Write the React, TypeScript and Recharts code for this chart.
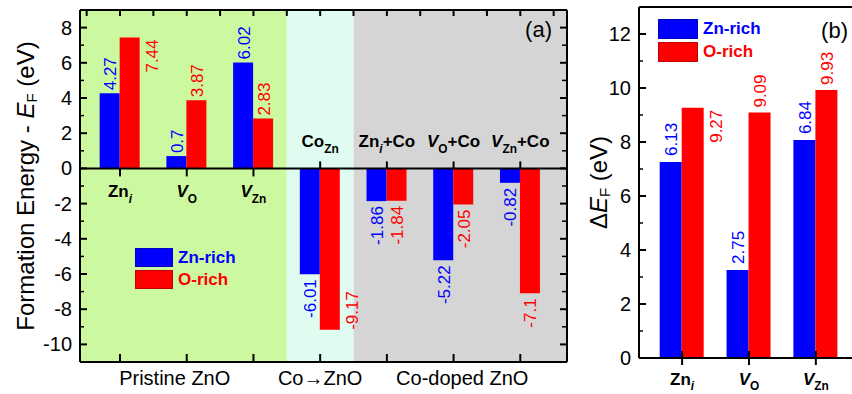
import React from 'react';
import {
  ComposedChart, Bar, XAxis, YAxis, ReferenceArea, ReferenceLine, Scatter, LabelList, Legend,
} from 'recharts';

// ---------------- Panel (a) data ----------------
const defectsA = ['Zn_i', 'V_O', 'V_Zn', 'Co_Zn', 'Zn_i+Co', 'V_O+Co', 'V_Zn+Co'];
const znRichA = [4.27, 0.7, 6.02, -6.01, -1.86, -5.22, -0.82];
const oRichA = [7.44, 3.87, 2.83, -9.17, -1.84, -2.05, -7.1];
const yTicksA = [-10, -8, -6, -4, -2, 0, 2, 4, 6, 8];
const yDomainA: [number, number] = [-11, 9];
const groupNamesA = ['Pristine ZnO', 'Co→ZnO', 'Co-doped ZnO'];
const groupLabelAtA = [1.82, 4, 6.13];
const groupBoundsA = [0.4, 3.5, 4.5, 7.7];

// ---------------- Panel (b) data ----------------
const defectsB = ['Zn_i', 'V_O', 'V_Zn'];
const znRichB = [7.26, 3.26, 8.07];
const znRichLabelB = [6.13, 2.75, 6.84];
const oRichB = [9.27, 9.09, 9.93];
const yTicksB = [0, 2, 4, 6, 8, 10, 12];
const yDomainB: [number, number] = [0, 13];
const xDomainB: [number, number] = [0.355, 3.9];

const seriesNames = ['Zn-rich', 'O-rich'];

// ---------------- styles ----------------
const FONT = '"Liberation Sans", Arial, Helvetica, sans-serif';
const BLUE = '#0000ff';
const RED = '#ff0000';
const REGION_COLORS = ['#ccf8a0', '#e0fcf1', '#d5d5d5'];
const AXIS = { stroke: '#000', strokeWidth: 2 };
const TICK_GAP = 8;
const MARGIN_A = { top: 9, right: 32, bottom: 31, left: 79 };
const MARGIN_B = { top: 6, right: 14, bottom: 35, left: 78 };

const rowsA = defectsA.map((name, i) => ({ x: i + 1, name, zn: znRichA[i], o: oRichA[i] }));
const rowsB = defectsB.map((name, i) => ({ x: i + 1, name, zn: znRichB[i], znLabel: znRichLabelB[i], o: oRichB[i] }));

function withMinor(majors: number[]) {
  const out: number[] = [];
  majors.forEach((v, i) => {
    out.push(v);
    if (i < majors.length - 1) out.push((v + majors[i + 1]) / 2);
  });
  return out;
}

type Seg = { t: string; sub?: boolean; italic?: boolean };
function parseName(s: string): Seg[] {
  const m = s.match(/^([^_+]+)(?:_([^+]+))?(.*)$/);
  if (!m) return [{ t: s }];
  const segs: Seg[] = [{ t: m[1], italic: m[1] === 'V' }];
  if (m[2]) segs.push({ t: m[2], sub: true, italic: m[2] === 'i' });
  if (m[3]) segs.push({ t: m[3] });
  return segs;
}

function CatText({ x, y, name, size }: { x: number; y: number; name: string; size: number }) {
  const segs = parseName(name);
  const shift = size * 0.32;
  return (
    <text x={x} y={y} textAnchor="middle" fontFamily={FONT} fontWeight="bold" fontSize={size} fill="#000">
      {segs.map((s, i) => {
        const prevSub = i > 0 && segs[i - 1].sub;
        const dy = s.sub ? shift : prevSub ? -shift : 0;
        return (
          <tspan key={i} dy={dy || undefined} fontSize={s.sub ? size * 0.7 : undefined}
            fontStyle={s.italic ? 'italic' : undefined}>{s.t}</tspan>
        );
      })}
    </text>
  );
}

// ---------------- tick renderers ----------------
const makeLeftTick = (majors: number[], fontSize: number) => (p: any) => {
  const v = p.payload.value;
  const major = majors.includes(v);
  const ax = p.x + TICK_GAP;
  return (
    <g>
      <path d={`M${ax},${p.y}h${major ? 7 : 4}`} stroke="#000" strokeWidth={major ? 2 : 1.5} fill="none" />
      {major && (
        <text x={p.x} y={p.y} textAnchor="end" dominantBaseline="central" fontFamily={FONT} fontSize={fontSize} fill="#000">{v}</text>
      )}
    </g>
  );
};

const makeRightTick = (majors: number[]) => (p: any) => {
  const major = majors.includes(p.payload.value);
  return <path d={`M${p.x},${p.y}h${-(major ? 7 : 5)}`} stroke="#000" strokeWidth={major ? 2 : 1.5} fill="none" />;
};

const TopTickA = (p: any) => <path d={`M${p.x},${p.y}v6`} stroke="#000" strokeWidth={2} fill="none" />;

const BottomTickA = (p: any) => {
  const v = p.payload.value;
  const gi = groupLabelAtA.indexOf(v);
  return (
    <g>
      {Number.isInteger(v) && <path d={`M${p.x},${p.y}v-8`} stroke="#000" strokeWidth={2} fill="none" />}
      {gi >= 0 && (
        <text x={p.x} y={p.y + 23} textAnchor="middle" fontFamily={FONT} fontSize={20} fill="#000">{groupNamesA[gi]}</text>
      )}
    </g>
  );
};

const BottomTickB = (p: any) => {
  const v = p.payload.value;
  const row = rowsB.find((r) => r.x === v);
  return (
    <g>
      <path d={`M${p.x},${p.y - 7}v14`} stroke="#000" strokeWidth={2} fill="none" />
      {row && <CatText x={p.x} y={p.y + 27} name={row.name} size={17} />}
    </g>
  );
};

// category labels sitting on the zero line (panel a)
const CatMarkA = (p: any) => {
  const { cx, cy, payload } = p;
  const above = payload.above;
  return (
    <g>
      <path d={`M${cx},${cy}v${above ? -7 : 8}`} stroke="#000" strokeWidth={2} fill="none" />
      <CatText x={cx} y={above ? cy - 21 : cy + 29} name={payload.name} size={17} />
    </g>
  );
};

// value labels
const makeValueLabel = (color: string, beside: Set<number>, gapPos: number, gapNeg: number) => (p: any) => {
  const vb = p.viewBox && typeof p.viewBox.x === 'number' ? p.viewBox : p;
  const x = Number(vb.x), y = Number(vb.y), w = Number(vb.width), h = Number(vb.height);
  const value = Number(p.value);
  const top = Math.min(y, y + h);
  const bottom = Math.max(y, y + h);
  const cx = x + w / 2 + 1;
  let px: number, py: number, anchor: 'start' | 'end';
  if (beside.has(p.index)) {
    px = x + w + 13;
    if (value >= 0) { py = top + 2; anchor = 'end'; } else { py = bottom; anchor = 'start'; }
  } else if (value >= 0) {
    px = cx; py = top - gapPos; anchor = 'start';
  } else {
    px = cx; py = bottom + gapNeg; anchor = 'end';
  }
  return (
    <text x={px} y={py} transform={`rotate(-90 ${px} ${py})`} textAnchor={anchor} dominantBaseline="central"
      fontFamily={FONT} fontSize={17} fill={color}>{String(value)}</text>
  );
};

// legend
const makeLegend = (sw: number, sh: number, gap: number) => (props: any) => {
  const items = (props.payload || [])
    .filter((e: any) => seriesNames.includes(e.value))
    .sort((a: any, b: any) => seriesNames.indexOf(a.value) - seriesNames.indexOf(b.value));
  return (
    <div style={{ display: 'flex', flexDirection: 'column', gap }}>
      {items.map((e: any) => (
        <div key={e.value} style={{ display: 'flex', alignItems: 'center', height: sh }}>
          <div style={{ width: sw, height: sh, background: e.color, boxSizing: 'border-box', border: '1px solid rgba(0,0,0,0.25)' }} />
          <span style={{ marginLeft: 5, color: e.color, fontFamily: FONT, fontWeight: 'bold', fontSize: 17, lineHeight: `${sh}px` }}>{e.value}</span>
        </div>
      ))}
    </div>
  );
};

// axis titles / panel tags
const titleA = (p: any) => {
  const vb = p.viewBox || p;
  const ax = vb.x + vb.width;
  const cx = ax - 55;
  const cy = vb.y + vb.height / 2;
  return (
    <text x={cx} y={cy} transform={`rotate(-90 ${cx} ${cy})`} textAnchor="middle" dominantBaseline="central"
      fontFamily={FONT} fontSize={24} fill="#000">
      <tspan>{'Formation Energy - '}</tspan>
      <tspan fontStyle="italic">E</tspan>
      <tspan dy={6} fontSize={15}>F</tspan>
      <tspan dy={-6}>{' (eV)'}</tspan>
    </text>
  );
};

const tagA = (p: any) => {
  const vb = p.viewBox || p;
  return (
    <text x={vb.x - 15} y={vb.y + 27} textAnchor="end" fontFamily={FONT} fontSize={22} fill="#000">(a)</text>
  );
};

const titleB = (p: any) => {
  const vb = p.viewBox || p;
  const ax = vb.x + vb.width;
  const cx = ax - 41;
  const cy = vb.y + vb.height / 2;
  return (
    <g>
      <text x={cx} y={cy} transform={`rotate(-90 ${cx} ${cy})`} textAnchor="middle" dominantBaseline="central"
        fontFamily={FONT} fontSize={24} fill="#000">
        <tspan>Δ</tspan>
        <tspan fontStyle="italic">E</tspan>
        <tspan dy={6} fontSize={15}>F</tspan>
        <tspan dy={-6}>{' (eV)'}</tspan>
      </text>
      <text x={ax + 209} y={vb.y + 31} textAnchor="end" fontFamily={FONT} fontSize={22} fill="#000">(b)</text>
    </g>
  );
};

const xDomainA: [number, number] = [groupBoundsA[0], groupBoundsA[groupBoundsA.length - 1]];

// background colour bands of panel (a), drawn on a separate chart underneath
function PanelABackground() {
  return (
    <ComposedChart width={600} height={394} data={rowsA} margin={MARGIN_A}>
      <XAxis xAxisId="b" dataKey="x" type="number" domain={xDomainA} allowDataOverflow height={1} axisLine={false} tickLine={false} tick={false} />
      <YAxis yAxisId="l" type="number" domain={yDomainA} allowDataOverflow width={1} axisLine={false} tickLine={false} tick={false} />
      <YAxis yAxisId="r" orientation="right" type="number" domain={yDomainA} allowDataOverflow width={1} axisLine={false} tickLine={false} tick={false} />
      <XAxis xAxisId="t" orientation="top" dataKey="x" type="number" domain={xDomainA} allowDataOverflow height={1} axisLine={false} tickLine={false} tick={false} />
      {groupNamesA.map((g, i) => (
        <ReferenceArea key={g} xAxisId="b" yAxisId="l" x1={groupBoundsA[i]} x2={groupBoundsA[i + 1]}
          y1={yDomainA[0]} y2={yDomainA[1]} fill={REGION_COLORS[i]} fillOpacity={1} stroke="none" />
      ))}
    </ComposedChart>
  );
}

function PanelA() {
  const topTicks: number[] = [];
  for (let v = 0.5; v <= rowsA.length + 0.5; v += 0.5) topTicks.push(v);
  const bottomTicks = Array.from(new Set([...rowsA.map((r) => r.x), ...groupLabelAtA])).sort((a, b) => a - b);
  const yAll = withMinor(yTicksA);
  const catPoints = rowsA.map((r) => ({ x: r.x, y: 0, name: r.name, above: r.zn < 0 }));
  return (
    <ComposedChart width={600} height={394} data={rowsA} margin={MARGIN_A} barSize={20} barGap={0}>
      <Bar xAxisId="b" yAxisId="l" dataKey="zn" name={seriesNames[0]} fill={BLUE} isAnimationActive={false}>
        <LabelList dataKey="zn" content={makeValueLabel(BLUE, new Set<number>(), 3, 5)} />
      </Bar>
      <Bar xAxisId="b" yAxisId="l" dataKey="o" name={seriesNames[1]} fill={RED} isAnimationActive={false}>
        <LabelList dataKey="o" content={makeValueLabel(RED, new Set<number>([0, 3]), 3, 5)} />
      </Bar>
      <ReferenceLine xAxisId="b" yAxisId="l" y={0} stroke="#000" strokeWidth={2} />
      <Scatter xAxisId="b" yAxisId="l" data={catPoints} dataKey="y" shape={CatMarkA} isAnimationActive={false} legendType="none" />
      <XAxis xAxisId="b" dataKey="x" type="number" domain={xDomainA} allowDataOverflow ticks={bottomTicks} interval={0}
        height={1} tickSize={0} tickMargin={0} tickLine={false} axisLine={AXIS} tick={BottomTickA} />
      <XAxis xAxisId="t" orientation="top" dataKey="x" type="number" domain={xDomainA} allowDataOverflow ticks={topTicks}
        interval={0} height={1} tickSize={0} tickMargin={0} tickLine={false} axisLine={AXIS} tick={TopTickA} />
      <YAxis yAxisId="l" type="number" domain={yDomainA} allowDataOverflow ticks={yAll} interval={0} width={1}
        tickSize={0} tickMargin={TICK_GAP} tickLine={false} axisLine={AXIS} tick={makeLeftTick(yTicksA, 20)} label={titleA} />
      <YAxis yAxisId="r" orientation="right" type="number" domain={yDomainA} allowDataOverflow ticks={yAll} interval={0}
        width={1} tickSize={0} tickMargin={0} tickLine={false} axisLine={AXIS} tick={makeRightTick(yTicksA)} label={tagA} />
      <Legend layout="vertical" verticalAlign="middle" align="center" content={makeLegend(38, 19, 3)}
        wrapperStyle={{ left: 135, top: 248, width: 'auto' }} />
    </ComposedChart>
  );
}

function PanelB() {
  const yAll = withMinor(yTicksB);
  return (
    <ComposedChart width={330} height={394} data={rowsB} margin={MARGIN_B} barSize={22} barGap={0}>
      <Bar xAxisId="b" yAxisId="l" dataKey="zn" name={seriesNames[0]} fill={BLUE} isAnimationActive={false}>
        <LabelList dataKey="znLabel" content={makeValueLabel(BLUE, new Set<number>(), 6, 5)} />
      </Bar>
      <Bar xAxisId="b" yAxisId="l" dataKey="o" name={seriesNames[1]} fill={RED} isAnimationActive={false}>
        <LabelList dataKey="o" content={makeValueLabel(RED, new Set<number>([0]), 5, 5)} />
      </Bar>
      <XAxis xAxisId="b" dataKey="x" type="number" domain={xDomainB} allowDataOverflow ticks={rowsB.map((r) => r.x)}
        interval={0} height={1} tickSize={0} tickMargin={0} tickLine={false} axisLine={AXIS} tick={BottomTickB} />
      <XAxis xAxisId="t" orientation="top" dataKey="x" type="number" domain={xDomainB} allowDataOverflow
        height={1} tickLine={false} tick={false} axisLine={AXIS} />
      <YAxis yAxisId="l" type="number" domain={yDomainB} allowDataOverflow ticks={yAll} interval={0} width={1}
        tickSize={0} tickMargin={TICK_GAP} tickLine={false} axisLine={AXIS} tick={makeLeftTick(yTicksB, 20)} label={titleB} />
      <Legend layout="vertical" verticalAlign="middle" align="center" content={makeLegend(40, 20, 3)}
        wrapperStyle={{ left: 98, top: 19, width: 'auto' }} />
    </ComposedChart>
  );
}

export default function App() {
  return (
    <div style={{ position: 'absolute', left: 0, top: 0, width: 852, height: 394, overflow: 'hidden', background: '#fff' }}>
      <div style={{ position: 'absolute', left: 0, top: 0 }}>
        <PanelABackground />
      </div>
      <div style={{ position: 'absolute', left: 0, top: 0 }}>
        <PanelA />
      </div>
      <div style={{ position: 'absolute', left: 560, top: 0 }}>
        <PanelB />
      </div>
    </div>
  );
}
